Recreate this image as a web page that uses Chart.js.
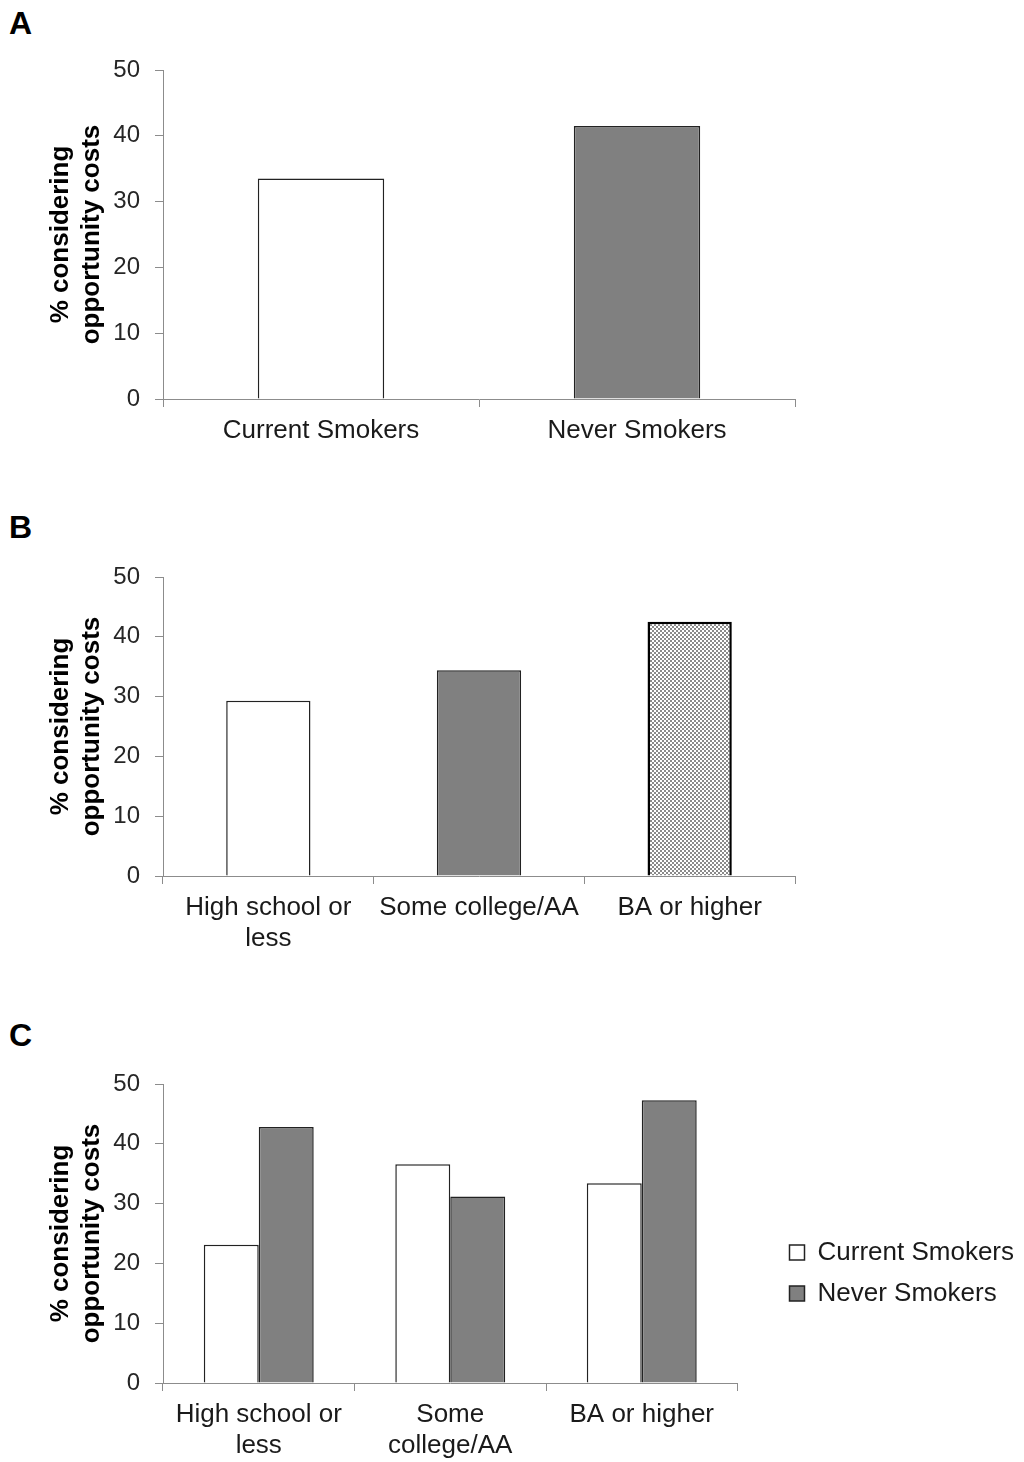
<!DOCTYPE html>
<html lang="en">
<head>
<meta charset="UTF-8" />
<script src="https://cdn.jsdelivr.net/npm/chart.js@4.4.0/dist/chart.umd.min.js"></script>
<title>Opportunity costs</title>
<style>
  body { margin: 0; background: #fff; width: 1024px; height: 1462px; position: relative; overflow: hidden; }
  .letter { position: absolute; left: 9px; font: bold 32px/32px "Liberation Sans", Arial, sans-serif; color: #000; }
  canvas { position: absolute; left: 0; }
</style>
</head>
<body>
<div class="letter" style="top:7px">A</div>
<div class="letter" style="top:511px">B</div>
<div class="letter" style="top:1019px">C</div>
<canvas id="chartA" width="1024" height="470" style="top:0px"></canvas>
<canvas id="chartB" width="1024" height="500" style="top:470px"></canvas>
<canvas id="chartC" width="1024" height="492" style="top:970px"></canvas>
<script>
  // panel A
  const groupsA = ['Current Smokers', 'Never Smokers'];
  const valuesA = [33.5, 41.5];
  // panel B
  const groupsB = [['High school or', 'less'], 'Some college/AA', 'BA or higher'];
  const valuesB = [29.3, 34.4, 42.5];
  // panel C
  const groupsC = [['High school or', 'less'], ['Some', 'college/AA'], 'BA or higher'];
  const currentC = [23.1, 36.6, 33.4];
  const neverC = [42.8, 31.2, 47.3];
  const seriesNames = ['Current Smokers', 'Never Smokers'];
  const yTicks = [0, 10, 20, 30, 40, 50];

  const FONT = '"Liberation Sans", Arial, sans-serif';
  const AXIS = '#8c8c8c';
  const EDGE = '#222222';

  // checkered fill for the BA bar
  function checker() {
    const c = document.createElement('canvas');
    c.width = 4; c.height = 4;
    const g = c.getContext('2d');
    g.fillStyle = '#ffffff';
    g.fillRect(0, 0, 4, 4);
    g.fillStyle = '#8a8a8a';
    g.fillRect(0, 0, 2, 2);
    g.fillRect(2, 2, 2, 2);
    return g.createPattern(c, 'repeat');
  }

  function scales(xHeight, extra) {
    const s = {
      x: {
        grid: { display: true, offset: true, drawOnChartArea: false, tickLength: 8, color: AXIS },
        border: { color: AXIS },
        ticks: { color: '#1a1a1a', font: { family: FONT, size: 26 }, padding: 8, maxRotation: 0, autoSkip: false },
        afterFit: s => { s.height = xHeight; }
      },
      y: {
        min: 0, max: 50,
        afterBuildTicks: s => { s.ticks = yTicks.map(v => ({ value: v })); },
        grid: { display: true, drawOnChartArea: false, tickLength: 8, color: AXIS },
        border: { color: AXIS },
        ticks: { color: '#262626', font: { family: FONT, size: 24 }, padding: 15 },
        title: {
          display: true,
          text: ['% considering', 'opportunity costs'],
          color: '#000',
          font: { family: FONT, size: 26, weight: 'bold' },
          padding: { top: 45, bottom: 0 }
        },
        afterFit: s => { s.width = 163; }
      }
    };
    return Object.assign(s, extra || {});
  }

  function baseOptions(padding, xHeight, extraScales, legend) {
    return {
      responsive: false,
      animation: false,
      layout: { padding: padding },
      plugins: { legend: legend || { display: false }, tooltip: { enabled: false } },
      scales: scales(xHeight, extraScales)
    };
  }

  new Chart(document.getElementById('chartA'), {
    type: 'bar',
    data: {
      labels: groupsA,
      datasets: [{
        data: valuesA,
        backgroundColor: ['#ffffff', '#808080'],
        borderColor: EDGE,
        borderWidth: 1.5,
        categoryPercentage: 0.4,
        barPercentage: 1
      }]
    },
    options: baseOptions({ top: 70, right: 229, left: 0, bottom: 0 }, 71)
  });

  new Chart(document.getElementById('chartB'), {
    type: 'bar',
    data: {
      labels: groupsB,
      datasets: [{
        data: valuesB,
        backgroundColor: ['#ffffff', '#808080', checker()],
        borderColor: [EDGE, EDGE, '#000000'],
        borderWidth: [1.5, 1.5, 2.5],
        categoryPercentage: 0.4,
        barPercentage: 1
      }]
    },
    options: baseOptions({ top: 107, right: 229, left: 0, bottom: 0 }, 94)
  });

  new Chart(document.getElementById('chartC'), {
    type: 'bar',
    data: {
      labels: groupsC,
      datasets: [
        { label: seriesNames[0], data: currentC, backgroundColor: '#ffffff', borderColor: EDGE, borderWidth: 1.5,
          categoryPercentage: 0.574, barPercentage: 1 },
        { label: seriesNames[1], data: neverC, backgroundColor: '#808080', borderColor: EDGE, borderWidth: 1.5,
          categoryPercentage: 0.574, barPercentage: 1 }
      ]
    },
    options: baseOptions({ top: 114, right: 0, left: 0, bottom: 0 }, 79, {
      // empty spacer between plot and legend
      gap: {
        type: 'linear', position: 'right', display: true,
        grid: { display: false }, border: { display: false }, ticks: { display: false },
        afterFit: s => { s.width = 37; }
      }
    }, {
      display: true,
      position: 'right',
      maxWidth: 300,
      labels: {
        color: '#1a1a1a',
        font: { family: FONT, size: 26 },
        boxWidth: 15, boxHeight: 15,
        padding: 15
      }
    })
  });
</script>
</body>
</html>
